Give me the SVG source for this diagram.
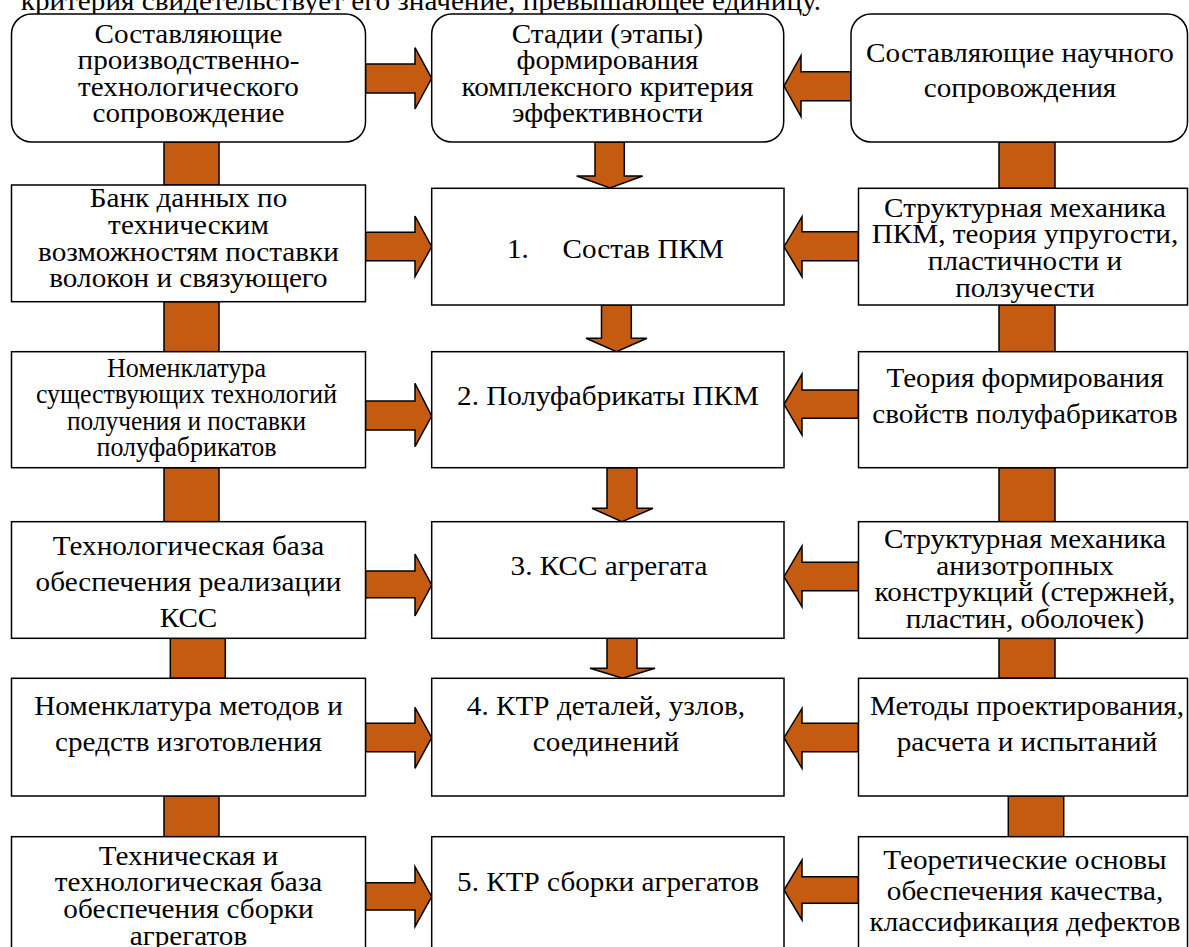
<svg xmlns="http://www.w3.org/2000/svg" width="1189" height="947" viewBox="0 0 1189 947" font-family="'Liberation Serif', Tinos, 'Times New Roman', 'DejaVu Serif', serif">
<style>
text{font-family:'Liberation Serif',Tinos,'Times New Roman','DejaVu Serif',serif;font-size:29.2px;fill:#000}
.c{text-anchor:middle}
.box{fill:#fff;stroke:#000;stroke-width:1.5}
.bar{fill:#C55A11;stroke:#000;stroke-width:1.5}
.arr{fill:#C55A11;stroke:#000;stroke-width:1.5;stroke-linejoin:miter}
</style>
<defs>
<clipPath id="cl2"><rect x="11.5" y="185" width="354" height="116.7"/></clipPath>
<clipPath id="cr2"><rect x="858.5" y="188.3" width="329" height="116.7"/></clipPath>
<clipPath id="cr4"><rect x="858.5" y="521.7" width="329" height="116.6"/></clipPath>
</defs>
<rect width="1189" height="947" fill="#fff"/>
<text x="821" y="10" text-anchor="end" transform="matrix(1 0 0 0.9 0 1)">критерия свидетельствует его значение, превышающее единицу.</text>
<g id="connectors">
<rect class="bar" x="164" y="142" width="55" height="43"/>
<rect class="bar" x="164" y="301.7" width="55" height="50"/>
<rect class="bar" x="164" y="467.7" width="55" height="54"/>
<rect class="bar" x="170.3" y="638.3" width="55" height="40"/>
<rect class="bar" x="164" y="796" width="55" height="40.7"/>
<rect class="bar" x="999" y="142" width="56" height="46.3"/>
<rect class="bar" x="999" y="305" width="56" height="46.7"/>
<rect class="bar" x="999" y="467.7" width="56" height="54"/>
<rect class="bar" x="999" y="638.3" width="56" height="40"/>
<rect class="bar" x="1008.3" y="796" width="55.4" height="40.7"/>
<path class="arr" d="M365.5,64 H415 V47.7 L431.7,78.3 L415,109 V93 H365.5 Z"/>
<path class="arr" d="M365.5,232.3 H415 V216 L431.7,246.7 L415,276.7 V260.7 H365.5 Z"/>
<path class="arr" d="M365.5,401 H415 V383.3 L431.7,416 L415,446.7 V430 H365.5 Z"/>
<path class="arr" d="M365.5,571 H415 V554 L431.7,585 L415,616 V597.7 H365.5 Z"/>
<path class="arr" d="M365.5,723.3 H415 V707.3 L431.7,737.7 L415,768.3 V751.7 H365.5 Z"/>
<path class="arr" d="M365.5,882.7 H415 V866.7 L431.7,896.7 L415,926.7 V910 H365.5 Z"/>
<path class="arr" d="M851,71.7 H801 V55.7 L784,86 L801,116.7 V100.7 H851 Z"/>
<path class="arr" d="M858.5,231.7 H802 V216.7 L784,246.7 L802,276.7 V260.7 H858.5 Z"/>
<path class="arr" d="M858.5,390 H802 V374 L784,404.3 L802,435 V418.3 H858.5 Z"/>
<path class="arr" d="M858.5,562.3 H802 V546 L784,576.7 L802,606.7 V590.7 H858.5 Z"/>
<path class="arr" d="M858.5,723.3 H802 V708.3 L784,737.7 L802,768.3 V751.7 H858.5 Z"/>
<path class="arr" d="M858.5,876.7 H802 V860 L784,890 L802,920 V903.3 H858.5 Z"/>
<path class="arr" d="M595,142 V176 H576.7 L610,188 L642.7,176 H624.3 V142 Z"/>
<path class="arr" d="M601.5,305 V338.3 H586 L616.5,351.7 L647,338.3 H631.3 V305 Z"/>
<path class="arr" d="M607,467.7 V508.3 H592 L622,521.7 L653,508.3 H637 V467.7 Z"/>
<path class="arr" d="M607,638.3 V668.3 H590 L622.5,678.3 L655,668.3 H637 V638.3 Z"/>
</g>
<g id="n-left-top">
<rect class="box" x="11.5" y="14" width="354" height="128" rx="20"/>
<text class="c" x="188.5" y="43" transform="matrix(1 0 0 0.9 0 4.3)">Составляющие</text>
<text class="c" x="188.5" y="69.5" transform="matrix(1 0 0 0.9 0 6.95)">производственно-</text>
<text class="c" x="188.5" y="96.5" transform="matrix(1 0 0 0.9 0 9.65)">технологического</text>
<text class="c" x="188.5" y="122.5" transform="matrix(1 0 0 0.9 0 12.25)">сопровождение</text>
</g>
<g id="n-center-top">
<rect class="box" x="431.7" y="14" width="352" height="128" rx="20"/>
<text class="c" x="607.5" y="43" transform="matrix(1 0 0 0.9 0 4.3)">Стадии (этапы)</text>
<text class="c" x="607.5" y="69.5" transform="matrix(1 0 0 0.9 0 6.95)">формирования</text>
<text class="c" x="607.5" y="96.5" transform="matrix(1 0 0 0.9 0 9.65)">комплексного критерия</text>
<text class="c" x="607.5" y="122.5" transform="matrix(1 0 0 0.9 0 12.25)">эффективности</text>
</g>
<g id="n-right-top">
<rect class="box" x="851" y="14" width="336.5" height="128" rx="20"/>
<text class="c" x="1020" y="62" transform="matrix(1 0 0 0.9 0 6.2)">Составляющие научного</text>
<text class="c" x="1020" y="97" transform="matrix(1 0 0 0.9 0 9.7)">сопровождения</text>
</g>
<g id="n-left-2">
<rect class="box" x="11.5" y="185" width="354" height="116.7"/>
<g clip-path="url(#cl2)">
<text class="c" x="188.5" y="207.5" transform="matrix(1 0 0 0.9 0 20.75)">Банк данных по</text>
<text class="c" x="188.5" y="234" transform="matrix(1 0 0 0.9 0 23.4)">техническим</text>
<text class="c" x="188.5" y="261" transform="matrix(1 0 0 0.9 0 26.1)">возможностям поставки</text>
<text class="c" x="188.5" y="287.5" transform="matrix(1 0 0 0.9 0 28.75)">волокон и связующего</text>
</g>
</g>
<g id="n-center-1">
<rect class="box" x="431.7" y="188.3" width="352.3" height="116.7"/>
<text x="507" y="258" transform="matrix(1 0 0 0.9 0 25.8)">1.<tspan x="562.5">Состав ПКМ</tspan></text>
</g>
<g id="n-right-2">
<rect class="box" x="858.5" y="188.3" width="329" height="116.7"/>
<g clip-path="url(#cr2)">
<text class="c" x="1025" y="217" transform="matrix(1 0 0 0.9 0 21.7)">Структурная механика</text>
<text class="c" x="1025" y="243" transform="matrix(1 0 0 0.9 0 24.3)">ПКМ, теория упругости,</text>
<text class="c" x="1025" y="270" transform="matrix(1 0 0 0.9 0 27)">пластичности и</text>
<text class="c" x="1025" y="297" transform="matrix(1 0 0 0.9 0 29.7)">ползучести</text>
</g>
</g>
<g id="n-left-3">
<rect class="box" x="11.5" y="351.7" width="354" height="116"/>
<text class="c" x="186.5" y="377" textLength="159" lengthAdjust="spacingAndGlyphs" transform="matrix(1 0 0 0.9 0 37.7)">Номенклатура</text>
<text class="c" x="186.5" y="403.5" textLength="301" lengthAdjust="spacingAndGlyphs" transform="matrix(1 0 0 0.9 0 40.35)">существующих технологий</text>
<text class="c" x="186.5" y="430" textLength="239" lengthAdjust="spacingAndGlyphs" transform="matrix(1 0 0 0.9 0 43)">получения и поставки</text>
<text class="c" x="186.5" y="456.5" textLength="180" lengthAdjust="spacingAndGlyphs" transform="matrix(1 0 0 0.9 0 45.65)">полуфабрикатов</text>
</g>
<g id="n-center-2">
<rect class="box" x="431.7" y="351.7" width="352.3" height="116"/>
<text class="c" x="608" y="405" transform="matrix(1 0 0 0.9 0 40.5)">2. Полуфабрикаты ПКМ</text>
</g>
<g id="n-right-3">
<rect class="box" x="858.5" y="351.7" width="329" height="116"/>
<text class="c" x="1025" y="387" transform="matrix(1 0 0 0.9 0 38.7)">Теория формирования</text>
<text class="c" x="1025" y="423" transform="matrix(1 0 0 0.9 0 42.3)">свойств полуфабрикатов</text>
</g>
<g id="n-left-4">
<rect class="box" x="11.5" y="521.7" width="354" height="116.6"/>
<text class="c" x="188.5" y="555" transform="matrix(1 0 0 0.9 0 55.5)">Технологическая база</text>
<text class="c" x="188.5" y="591" transform="matrix(1 0 0 0.9 0 59.1)">обеспечения реализации</text>
<text class="c" x="188.5" y="627" transform="matrix(1 0 0 0.9 0 62.7)">КСС</text>
</g>
<g id="n-center-3">
<rect class="box" x="431.7" y="521.7" width="352.3" height="116.6"/>
<text class="c" x="609" y="575" transform="matrix(1 0 0 0.9 0 57.5)">3. КСС агрегата</text>
</g>
<g id="n-right-4">
<rect class="box" x="858.5" y="521.7" width="329" height="116.6"/>
<g clip-path="url(#cr4)">
<text class="c" x="1025" y="548.5" transform="matrix(1 0 0 0.9 0 54.85)">Структурная механика</text>
<text class="c" x="1025" y="575" transform="matrix(1 0 0 0.9 0 57.5)">анизотропных</text>
<text class="c" x="1025" y="601.5" transform="matrix(1 0 0 0.9 0 60.15)">конструкций (стержней,</text>
<text class="c" x="1025" y="628.5" transform="matrix(1 0 0 0.9 0 62.85)">пластин, оболочек)</text>
</g>
</g>
<g id="n-left-5">
<rect class="box" x="11.5" y="678.3" width="354" height="117.7"/>
<text class="c" x="188.5" y="715" transform="matrix(1 0 0 0.9 0 71.5)">Номенклатура методов и</text>
<text class="c" x="188.5" y="751.5" transform="matrix(1 0 0 0.9 0 75.15)">средств изготовления</text>
</g>
<g id="n-center-4">
<rect class="box" x="431.7" y="678.3" width="352.3" height="117.7"/>
<text class="c" x="606" y="715" transform="matrix(1 0 0 0.9 0 71.5)">4. КТР деталей, узлов,</text>
<text class="c" x="606" y="751.5" transform="matrix(1 0 0 0.9 0 75.15)">соединений</text>
</g>
<g id="n-right-5">
<rect class="box" x="858.5" y="678.3" width="329" height="117.7"/>
<text class="c" x="1027" y="715" transform="matrix(1 0 0 0.9 0 71.5)">Методы проектирования,</text>
<text class="c" x="1027" y="751.5" transform="matrix(1 0 0 0.9 0 75.15)">расчета и испытаний</text>
</g>
<g id="n-left-6">
<rect class="box" x="11.5" y="836.7" width="354" height="130"/>
<text class="c" x="188.5" y="865" transform="matrix(1 0 0 0.9 0 86.5)">Техническая и</text>
<text class="c" x="188.5" y="891.5" transform="matrix(1 0 0 0.9 0 89.15)">технологическая база</text>
<text class="c" x="188.5" y="918" transform="matrix(1 0 0 0.9 0 91.8)">обеспечения сборки</text>
<text class="c" x="188.5" y="945" transform="matrix(1 0 0 0.9 0 94.5)">агрегатов</text>
</g>
<g id="n-center-5">
<rect class="box" x="431.7" y="836.7" width="352.3" height="130"/>
<text class="c" x="608" y="891.5" transform="matrix(1 0 0 0.9 0 89.15)">5. КТР сборки агрегатов</text>
</g>
<g id="n-right-6">
<rect class="box" x="858.5" y="836.7" width="329" height="130"/>
<text class="c" x="1025" y="869" transform="matrix(1 0 0 0.9 0 86.9)">Теоретические основы</text>
<text class="c" x="1025" y="900" transform="matrix(1 0 0 0.9 0 90)">обеспечения качества,</text>
<text class="c" x="1025" y="931" transform="matrix(1 0 0 0.9 0 93.1)">классификация дефектов</text>
</g>
</svg>
